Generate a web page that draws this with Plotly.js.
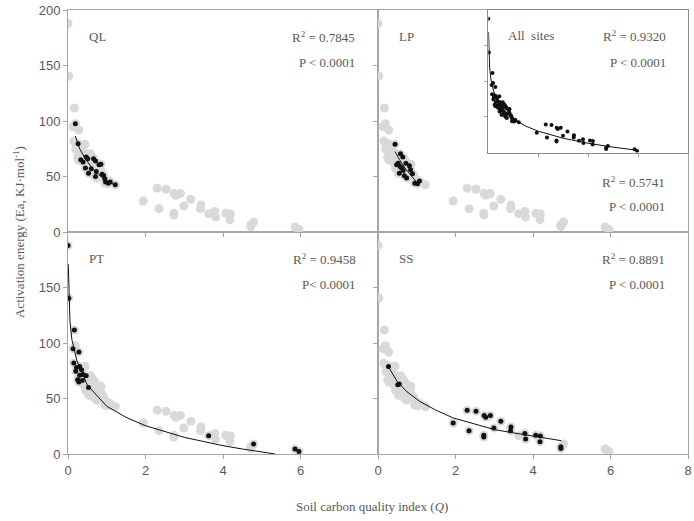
<!DOCTYPE html>
<html>
<head>
<meta charset="utf-8">
<script src="https://cdn.plot.ly/plotly-3.0.1.min.js"></script>
<style>html,body{margin:0;padding:0;background:#fff;}#chart{width:694px;height:521px;}</style>
</head>
<body>
<div id="chart"></div>
<script>
// ---- Site data (Q = soil carbon quality index, Ea = activation energy) ----
const QL_Q  = [0.19, 0.26, 0.33, 0.39, 0.47, 0.51, 0.45, 0.53, 0.60, 0.66, 0.71, 0.80, 0.73, 0.71, 0.85, 0.88, 0.92, 0.95, 0.97, 1.04, 1.09, 1.22];
const QL_Ea = [97.5, 79.5, 65, 63, 67.5, 66, 57.6, 53, 57, 66, 64, 60.6, 54.5, 50, 61, 52, 51, 48, 45, 44, 45, 42.6];

const LP_Q  = [0.44, 0.58, 0.64, 0.48, 0.52, 0.57, 0.61, 0.65, 0.72, 0.81, 0.84, 0.89, 0.68, 0.74, 0.95, 1.02, 1.07, 0.55];
const LP_Ea = [79, 70.5, 67.5, 60.6, 62, 59, 57.6, 55.5, 62, 59.7, 56, 52.5, 50.7, 48.6, 44, 43.5, 46, 53];

const PT_Q  = [0.0, 0.02, 0.165, 0.13, 0.28, 0.15, 0.22, 0.30, 0.35, 0.20, 0.39, 0.30, 0.47, 0.25, 0.28, 0.37, 0.53, 3.63, 4.79, 5.86, 5.96];
const PT_Ea = [187.8, 140.4, 111.7, 94.8, 91.8, 81.9, 78, 78.9, 76, 74.5, 71.7, 71, 70.4, 67, 64.8, 66.3, 60, 16.5, 9, 4.5, 2.3];

const SS_Q  = [0.27, 0.51, 0.55, 1.94, 2.30, 2.53, 2.35, 2.74, 2.78, 2.90, 2.73, 2.73, 2.99, 3.17, 3.43, 3.42, 3.79, 3.81, 4.07, 4.19, 4.18, 4.72, 4.72];
const SS_Ea = [78.9, 62.4, 63, 27.9, 39.4, 38.5, 21, 34.6, 33.1, 34.6, 16.8, 15.3, 23.4, 29.4, 24.3, 21, 18.5, 13.5, 16.8, 16.2, 11.1, 6.6, 5.0];

// ---- Fitted curves ----
const QL_fitQ  = [0.19, 0.3, 0.45, 0.6, 0.8, 1.0, 1.17];
const QL_fitEa = [86.5, 75, 66, 58.5, 51.5, 46, 43];
const LP_fitQ  = [0.44, 0.55, 0.7, 0.85, 1.0];
const LP_fitEa = [72.5, 65.5, 57.5, 50.5, 44.6];
const PT_fitQ  = [0.007, 0.02, 0.05, 0.1, 0.23, 0.5, 1.0, 1.5, 2.0, 3.0, 4.0, 4.5, 5.0, 5.35];
const PT_fitEa = [171, 145, 120, 103, 84, 62, 43, 33, 25.5, 15, 7.5, 4.5, 2, 0];
const SS_fitQ  = [0.27, 0.5, 0.75, 1.08, 1.5, 1.94, 2.5, 3.0, 3.5, 4.0, 4.73];
const SS_fitEa = [78.5, 65, 56, 47.3, 39.4, 32.5, 27, 22, 19, 16, 12];
const ALL_fitQ  = [0.007, 0.02, 0.05, 0.1, 0.21, 0.5, 1.0, 1.5, 2.0, 3.0, 4.0, 5.0, 5.9];
const ALL_fitEa = [169, 143, 120, 103, 86, 64, 47, 37, 30, 20, 13, 7.5, 3.5];

// ---- Panel texts ----
const siteNames = ["QL", "LP", "PT", "SS"];
const r2Texts   = ["R<sup>2</sup> = 0.7845", "R<sup>2</sup> = 0.5741", "R<sup>2</sup> = 0.9458", "R<sup>2</sup> = 0.8891"];
const pTexts    = ["P < 0.0001", "P < 0.0001", "P< 0.0001", "P < 0.0001"];
const allR2     = "R<sup>2</sup> = 0.9320";
const allP      = "P < 0.0001";

const ALL_Q  = QL_Q.concat(LP_Q, PT_Q, SS_Q);
const ALL_Ea = QL_Ea.concat(LP_Ea, PT_Ea, SS_Ea);

const GRAY = "#d9d9d9", BLACK = "#111111";
const FRAME = "#a6a6a6";
const TXT = "#595959";
const SERIF = "Liberation Serif, Times New Roman, serif";
const SANS = "Liberation Sans, Arial, sans-serif";

const panels = [
  {Q: QL_Q, Ea: QL_Ea, fq: QL_fitQ, fe: QL_fitEa, xa: "x3", ya: "y3"},
  {Q: LP_Q, Ea: LP_Ea, fq: LP_fitQ, fe: LP_fitEa, xa: "x4", ya: "y4"},
  {Q: PT_Q, Ea: PT_Ea, fq: PT_fitQ, fe: PT_fitEa, xa: "x",  ya: "y"},
  {Q: SS_Q, Ea: SS_Ea, fq: SS_fitQ, fe: SS_fitEa, xa: "x2", ya: "y2"}
];

const traces = [];
panels.forEach(p => {
  traces.push({x: ALL_Q, y: ALL_Ea, xaxis: p.xa, yaxis: p.ya, type: "scatter", mode: "markers",
    marker: {color: GRAY, size: 9}, showlegend: false, hoverinfo: "skip"});
});
panels.forEach(p => {
  traces.push({x: p.fq, y: p.fe, xaxis: p.xa, yaxis: p.ya, type: "scatter", mode: "lines",
    line: {color: BLACK, width: 1}, showlegend: false, hoverinfo: "skip"});
  traces.push({x: p.Q, y: p.Ea, xaxis: p.xa, yaxis: p.ya, type: "scatter", mode: "markers",
    marker: {color: BLACK, size: 5}, showlegend: false});
});
// inset: all sites
traces.push({x: ALL_fitQ, y: ALL_fitEa, xaxis: "x5", yaxis: "y5", type: "scatter", mode: "lines",
  line: {color: BLACK, width: 1}, showlegend: false, hoverinfo: "skip"});
traces.push({x: ALL_Q, y: ALL_Ea, xaxis: "x5", yaxis: "y5", type: "scatter", mode: "markers",
  marker: {color: BLACK, size: 4}, showlegend: false});

function xax(domain, anchor, vals, labels) {
  return {domain: domain, anchor: anchor, range: [0, 8], tickvals: vals, showticklabels: labels,
    ticks: "outside", ticklen: 4, tickcolor: FRAME, showline: true, linecolor: FRAME, linewidth: 1,
    mirror: true, showgrid: false, zeroline: false, fixedrange: true,
    tickfont: {family: SANS, size: 13, color: TXT}};
}
function yax(domain, anchor, vals, labels) {
  return {domain: domain, anchor: anchor, range: [0, 200], tickvals: vals, showticklabels: labels,
    ticks: "outside", ticklen: 4, tickcolor: FRAME, showline: true, linecolor: FRAME, linewidth: 1,
    mirror: true, showgrid: false, zeroline: false, fixedrange: true,
    tickfont: {family: SANS, size: 13, color: TXT}};
}

const annotations = [];
function ann(text, x, y, xref, yref, xanchor) {
  annotations.push({text: text, x: x, y: y, xref: xref, yref: yref, xanchor: xanchor, yanchor: "middle",
    showarrow: false, font: {family: SERIF, size: 13, color: TXT}});
}
ann(siteNames[0], 0.5, 176, "x3", "y3", "left");
ann(siteNames[1], 0.5, 176, "x4", "y4", "left");
ann(siteNames[2], 0.5, 176, "x", "y", "left");
ann(siteNames[3], 0.5, 176, "x2", "y2", "left");
ann(r2Texts[0], 7.45, 176, "x3", "y3", "right");
ann(pTexts[0], 7.45, 153, "x3", "y3", "right");
ann(r2Texts[1], 7.47, 45.5, "x4", "y4", "right");
ann(pTexts[1], 7.47, 23, "x4", "y4", "right");
ann(r2Texts[2], 7.48, 176, "x", "y", "right");
ann(pTexts[2], 7.48, 152.5, "x", "y", "right");
ann(r2Texts[3], 7.47, 176, "x2", "y2", "right");
ann(pTexts[3], 7.47, 152.5, "x2", "y2", "right");
ann("All&nbsp; sites", 0.69, 164, "x5", "y5", "left");
ann(allR2, 7.2, 164, "x5", "y5", "right");
ann(allP, 7.2, 127, "x5", "y5", "right");
ann("Activation energy (Ea, KJ·mol<sup>-1</sup>)", -0.079, 0.5, "paper", "paper", "center");
annotations[annotations.length - 1].textangle = -90;
ann("Soil carbon quality index (<i>Q</i>)", 0.49, -0.119, "paper", "paper", "center");

const layout = {
  width: 694, height: 521,
  margin: {l: 67.5, r: 6, t: 10, b: 66.7},
  paper_bgcolor: "#ffffff", plot_bgcolor: "rgba(0,0,0,0)",
  showlegend: false,
  xaxis:  xax([0, 0.5], "y",  [0, 2, 4, 6], true),
  yaxis:  yax([0, 0.5], "x",  [0, 50, 100, 150], true),
  xaxis2: xax([0.5, 1], "y2", [0, 2, 4, 6, 8], true),
  yaxis2: yax([0, 0.5], "x2", [50, 100, 150], false),
  xaxis3: xax([0, 0.5], "y3", [2, 4, 6], false),
  yaxis3: yax([0.5, 1], "x3", [0, 50, 100, 150, 200], true),
  xaxis4: xax([0.5, 1], "y4", [2, 4, 6], false),
  yaxis4: yax([0.5, 1], "x4", [50, 100, 150], false),
  xaxis5: Object.assign(xax([0.678, 1], "y5", [2, 4, 6], false), {ticklen: 3, linecolor: "#8c8c8c"}),
  yaxis5: Object.assign(yax([0.679, 1], "x5", [50, 100, 150], false), {ticklen: 3, linecolor: "#8c8c8c"}),
  annotations: annotations
};

Plotly.newPlot("chart", traces, layout, {displayModeBar: false, staticPlot: true});
</script>
</body>
</html>
